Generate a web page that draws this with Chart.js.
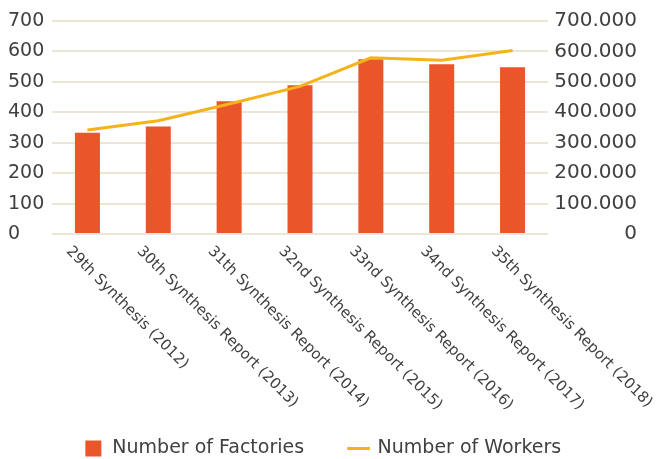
<!DOCTYPE html>
<html>
<head>
<meta charset="utf-8">
<script src="https://cdn.jsdelivr.net/npm/chart.js@4"></script>
<style>
  html, body { margin: 0; padding: 0; background: #fff; }
  #wrap { width: 659px; height: 459px; }
</style>
</head>
<body>
<div id="wrap"><canvas id="chart"></canvas></div>
<script>
const categories = [
    "29th Synthesis (2012)",
    "30th Synthesis Report (2013)",
    "31th Synthesis Report (2014)",
    "32nd Synthesis Report (2015)",
    "33nd Synthesis Report (2016)",
    "34nd Synthesis Report (2017)",
    "35th Synthesis Report (2018)",
];
const factories = [333, 353, 436, 489, 574, 558, 548];
const workers = [342000, 372000, 427000, 485000, 579000, 571000, 603000];

const barColor = "#e8562a";
const lineColor = "#f5b31b";
const gridColor = "#ebe6d7";
const textColor = "#404040";
const fontFamily = '"DejaVu Sans", sans-serif';

// x labels go down-right from the tick, chart.js only rotates the other way
const xLabels = {
    id: 'xLabels',
    afterDraw(chart) {
        const ctx = chart.ctx;
        const x = chart.scales.x;
        ctx.save();
        ctx.font = '15px ' + fontFamily;
        ctx.fillStyle = textColor;
        ctx.textAlign = 'left';
        ctx.textBaseline = 'middle';
        categories.forEach((label, i) => {
            const px = x.getPixelForValue(i);
            ctx.save();
            ctx.translate(px - 19, x.top + 15);
            ctx.rotate(Math.PI / 4);
            ctx.fillText(label, 0, 0);
            ctx.restore();
        });
        ctx.restore();
    }
};

function dotThousands(v) {
    return String(v).replace(/\B(?=(\d{3})+(?!\d))/g, ".");
}

new Chart(document.getElementById("chart"), {
    type: "bar",
    data: {
        labels: categories,
        datasets: [{
            type: "line",
            label: "Number of Workers",
            data: workers,
            yAxisID: "y1",
            borderColor: lineColor,
            backgroundColor: lineColor,
            borderWidth: 3,
            pointRadius: 0,
            tension: 0,
            pointStyle: "line",
            order: 0
        }, {
            label: "Number of Factories",
            data: factories,
            yAxisID: "y",
            backgroundColor: barColor,
            categoryPercentage: 1,
            barPercentage: 0.353,
            pointStyle: "rect",
            order: 1
        }]
    },
    options: {
        responsive: true,
        maintainAspectRatio: false,
        animation: false,
        layout: {
            padding: { left: 8, right: 22, top: 21, bottom: -9 }
        },
        scales: {
            x: {
                grid: { display: false, drawTicks: false },
                border: { display: false },
                ticks: { display: false },
                afterFit(scale) { scale.height = 160; }
            },
            y: {
                position: "left",
                min: 0,
                max: 700,
                grid: { color: gridColor, lineWidth: 2, drawTicks: false },
                border: { display: false },
                ticks: {
                    stepSize: 100,
                    autoSkip: false,
                    padding: 6,
                    crossAlign: "far",
                    color: textColor,
                    font: { family: fontFamily, size: 19 }
                },
                afterFit(scale) { scale.width = 44; }
            },
            y1: {
                position: "right",
                min: 0,
                max: 700000,
                grid: { display: false, drawTicks: false },
                border: { display: false },
                ticks: {
                    stepSize: 100000,
                    autoSkip: false,
                    padding: 6,
                    crossAlign: "far",
                    color: textColor,
                    font: { family: fontFamily, size: 20 },
                    callback: v => dotThousands(v)
                },
                afterFit(scale) { scale.width = 89; }
            }
        },
        plugins: {
            legend: {
                position: "bottom",
                reverse: true,
                labels: {
                    usePointStyle: true,
                    boxHeight: 16,
                    padding: 45,
                    color: textColor,
                    font: { family: fontFamily, size: 19 }
                }
            },
            tooltip: { enabled: false }
        }
    },
    plugins: [xLabels]
});
</script>
</body>
</html>
